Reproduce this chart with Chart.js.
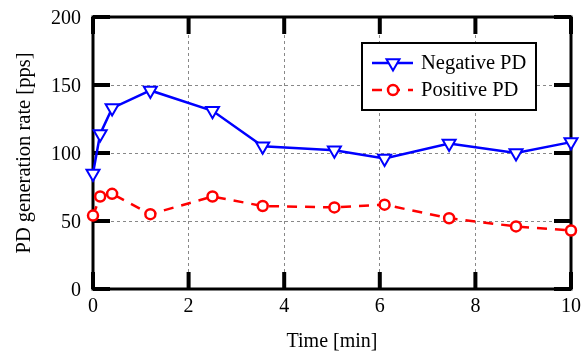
<!DOCTYPE html>
<html>
<head>
<meta charset="utf-8">
<script src="https://cdn.jsdelivr.net/npm/chart.js@4"></script>
<style>
  html, body { margin: 0; padding: 0; background: #fff; }
  #wrap { width: 582px; height: 354px; }
</style>
</head>
<body>
<div id="wrap"><canvas id="pdChart" width="582" height="354"></canvas></div>
<script>
// data
const timeMin = [0, 0.15, 0.4, 1.2, 2.5, 3.55, 5.05, 6.1, 7.45, 8.85, 10];
const negativePD = [85, 114, 133, 146, 131, 105, 102, 96, 107, 100, 108];
const positivePD = [54, 68, 70, 55, 68, 61, 60, 62, 52, 46, 43];
const seriesNames = ['Negative PD', 'Positive PD'];
const xTicks = [0, 2, 4, 6, 8, 10];
const yTicks = [0, 50, 100, 150, 200];

const FONT = "'Liberation Serif', 'Times New Roman', serif";

function toPoints(xs, ys) {
    return xs.map((x, i) => ({ x: x, y: ys[i] }));
}

// black frame with inward ticks on all four sides
const framePlugin = {
    id: 'frame',
    beforeDatasetsDraw(chart) {
        const { ctx, chartArea: a, scales } = chart;
        const tl = 17;
        ctx.save();
        ctx.strokeStyle = '#000';
        ctx.lineWidth = 4;
        ctx.beginPath();
        xTicks.forEach(v => {
            const px = scales.x.getPixelForValue(v);
            ctx.moveTo(px, a.bottom); ctx.lineTo(px, a.bottom - tl);
            ctx.moveTo(px, a.top); ctx.lineTo(px, a.top + tl);
        });
        yTicks.forEach(v => {
            const py = scales.y.getPixelForValue(v);
            ctx.moveTo(a.left, py); ctx.lineTo(a.left + tl, py);
            ctx.moveTo(a.right, py); ctx.lineTo(a.right - tl, py);
        });
        ctx.stroke();
        ctx.lineWidth = 3;
        ctx.strokeRect(a.left, a.top, a.right - a.left, a.bottom - a.top);
        ctx.restore();
    }
};

// legend box inside the plot, top right
const boxLegend = {
    id: 'boxLegend',
    afterDraw(chart) {
        const { ctx } = chart;
        const bx = 362, by = 43, bw = 174, bh = 67;
        ctx.save();
        ctx.fillStyle = '#fff';
        ctx.fillRect(bx, by, bw, bh);
        ctx.strokeStyle = '#000';
        ctx.lineWidth = 2;
        ctx.strokeRect(bx, by, bw, bh);
        chart.data.datasets.forEach((ds, i) => {
            const y = by + 20 + i * 27;
            ctx.strokeStyle = ds.borderColor;
            ctx.lineWidth = ds.borderWidth;
            ctx.setLineDash(ds.borderDash || []);
            ctx.beginPath();
            ctx.moveTo(372, y); ctx.lineTo(413, y);
            ctx.stroke();
            ctx.setLineDash([]);
            ctx.fillStyle = '#fff';
            ctx.lineWidth = ds.pointBorderWidth;
            Chart.helpers.drawPoint(ctx, {
                pointStyle: ds.pointStyle,
                radius: ds.pointRadius,
                rotation: ds.pointRotation || 0,
                borderWidth: ds.pointBorderWidth
            }, 393, y);
            ctx.fillStyle = '#000';
            ctx.font = '20.5px ' + FONT;
            ctx.textBaseline = 'middle';
            ctx.fillText(ds.label, 421, y + 1);
        });
        ctx.restore();
    }
};

new Chart(document.getElementById('pdChart'), {
    type: 'line',
    data: {
        datasets: [{
            label: seriesNames[0],
            data: toPoints(timeMin, negativePD),
            borderColor: 'rgb(0, 0, 255)',
            borderWidth: 2.5,
            pointStyle: 'triangle',
            pointRotation: 180,
            pointRadius: 7.5,
            pointBorderWidth: 2,
            pointBackgroundColor: '#fff',
            pointBorderColor: 'rgb(0, 0, 255)',
            tension: 0,
            clip: false
        }, {
            label: seriesNames[1],
            data: toPoints(timeMin, positivePD),
            borderColor: 'rgb(255, 0, 0)',
            borderWidth: 2.5,
            borderDash: [10, 8],
            pointStyle: 'circle',
            pointRadius: 5,
            pointBorderWidth: 2.5,
            pointBackgroundColor: '#fff',
            pointBorderColor: 'rgb(255, 0, 0)',
            tension: 0,
            clip: false
        }]
    },
    options: {
        responsive: false,
        animation: false,
        layout: { padding: { top: 17, right: 11, left: 0, bottom: 0 } },
        plugins: {
            legend: { display: false },
            tooltip: { enabled: false }
        },
        scales: {
            x: {
                type: 'linear',
                min: 0,
                max: 10,
                afterBuildTicks: s => { s.ticks = xTicks.map(v => ({ value: v })); },
                afterFit: s => { s.height = 65; s.paddingLeft = 0; s.paddingRight = 0; },
                grid: { color: '#888', lineWidth: 1, drawTicks: false },
                border: { display: false, dash: [3, 3] },
                ticks: { color: '#000', padding: 6, font: { family: FONT, size: 20 } },
                title: {
                    display: true,
                    text: 'Time [min]',
                    color: '#000',
                    padding: { top: 0, bottom: 0 },
                    font: { family: FONT, size: 20 }
                }
            },
            y: {
                min: 0,
                max: 200,
                afterBuildTicks: s => { s.ticks = yTicks.map(v => ({ value: v })); },
                afterFit: s => { s.width = 93; s.paddingTop = 0; s.paddingBottom = 0; },
                grid: { color: '#888', lineWidth: 1, drawTicks: false },
                border: { display: false, dash: [3, 3] },
                ticks: { color: '#000', padding: 12, labelOffset: 1.5, font: { family: FONT, size: 20 } },
                title: {
                    display: true,
                    text: 'PD generation rate [pps]',
                    color: '#000',
                    padding: { top: 12, bottom: 12 },
                    font: { family: FONT, size: 20.5 }
                }
            }
        }
    },
    plugins: [framePlugin, boxLegend]
});
</script>
</body>
</html>
